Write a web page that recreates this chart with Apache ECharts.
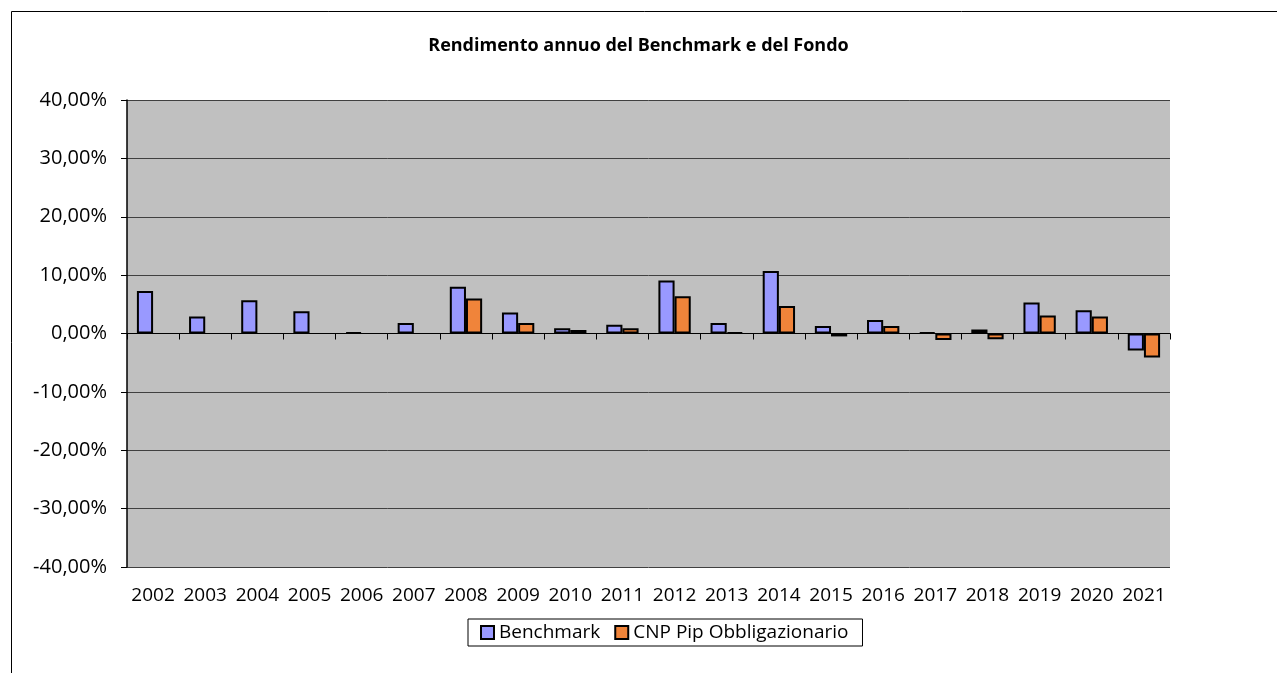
<!DOCTYPE html>
<html>
<head>
<meta charset="utf-8">
<script src="https://cdn.jsdelivr.net/npm/echarts@6/dist/echarts.min.js"></script>
<style>
html,body{margin:0;padding:0;background:#fff;}
#chart{width:1277px;height:673px;}
</style>
</head>
<body>
<div id="chart"></div>
<script>
const titleText = 'Rendimento annuo del Benchmark e del Fondo';
const categories = ['2002','2003','2004','2005','2006','2007','2008','2009','2010','2011','2012','2013','2014','2015','2016','2017','2018','2019','2020','2021'];
const seriesNames = ['Benchmark','CNP Pip Obbligazionario'];
const benchmark = [7.3, 2.9, 5.7, 3.8, 0.2, 1.8, 8.0, 3.6, 0.9, 1.5, 9.1, 1.8, 10.7, 1.3, 2.3, 0.2, 0.7, 5.3, 4.0, -2.9];
const fondo = [null, null, null, null, null, null, 6.0, 1.8, 0.6, 0.9, 6.4, 0.2, 4.7, -0.5, 1.3, -1.1, -1.0, 3.1, 2.9, -4.1];
const yMin = -40, yMax = 40, yInterval = 10;

const FONT = 'Open Sans';
const chart = echarts.init(document.getElementById('chart'), null, {renderer:'canvas'});
const fmt = v => v.toFixed(2).replace('.', ',') + '%';

chart.setOption({
  animation: false,
  backgroundColor: '#ffffff',
  textStyle: {fontFamily: FONT, color: '#000'},
  graphic: [{
    type: 'rect', left: 9, top: 9, silent: true,
    shape: {width: 1300, height: 700},
    style: {fill: 'none', stroke: '#000', lineWidth: 1}
  }],
  title: {
    text: titleText, left: 'center', top: 32,
    textStyle: {fontFamily: FONT, fontWeight: 'bold', fontSize: 18, color: '#000'}
  },
  legend: {
    data: seriesNames, left: 468, top: 619,
    icon: 'rect', itemWidth: 13, itemHeight: 13, itemGap: 14,
    padding: [4, 14, 4, 12],
    borderColor: '#000', borderWidth: 1,
    itemStyle: {borderColor: '#000', borderWidth: 2},
    textStyle: {fontFamily: FONT, fontSize: 19, color: '#000', padding: [0, 0, 0, 0]}
  },
  grid: {
    left: 127, right: 107, top: 100, bottom: 106,
    show: true, backgroundColor: '#C0C0C0', borderWidth: 0
  },
  xAxis: [{
    type: 'category', data: categories, position: 'bottom',
    axisLine: {show: false, onZero: false},
    axisTick: {show: false},
    axisLabel: {fontFamily: FONT, fontSize: 19, color: '#000', margin: 19, interval: 0}
  }, {
    type: 'category', data: categories, position: 'bottom',
    axisLine: {show: true, onZero: true, lineStyle: {color: '#000', width: 1}},
    axisTick: {show: true, length: 6, lineStyle: {color: '#000'}},
    axisLabel: {show: false}
  }],
  yAxis: {
    type: 'value', min: yMin, max: yMax, interval: yInterval,
    axisLine: {show: true, lineStyle: {color: '#000', width: 1.5}},
    axisTick: {show: true, length: 6, lineStyle: {color: '#000'}},
    axisLabel: {fontFamily: FONT, fontSize: 20, color: '#000', margin: 20, formatter: fmt},
    splitLine: {show: true, lineStyle: {color: '#404040', width: 1}}
  },
  series: [{
    name: seriesNames[0], type: 'bar', data: benchmark, xAxisIndex: 0,
    barGap: '0%', barCategoryGap: '38%',
    itemStyle: {color: '#9999FF', borderColor: '#000', borderWidth: 2}
  }, {
    name: seriesNames[1], type: 'bar', data: fondo, xAxisIndex: 0,
    barGap: '0%', barCategoryGap: '38%',
    itemStyle: {color: '#F0843A', borderColor: '#000', borderWidth: 2}
  }]
});
</script>
</body>
</html>
